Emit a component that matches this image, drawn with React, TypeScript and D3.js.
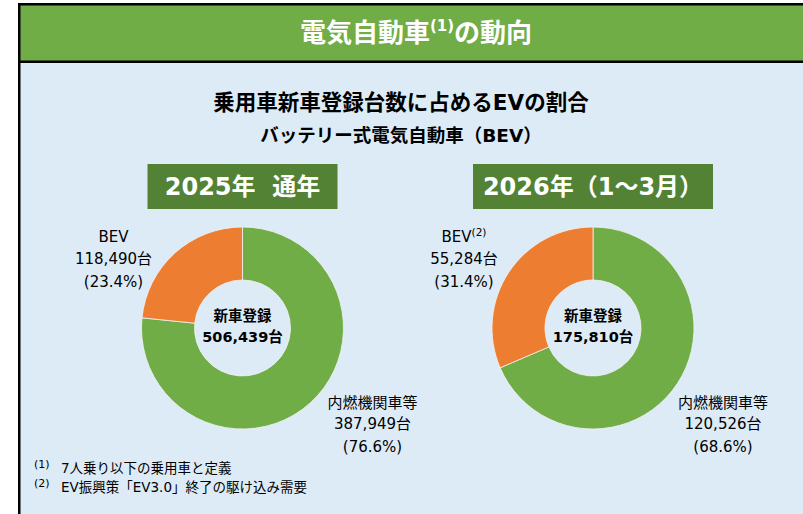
import React from "react";
import * as d3 from "d3";

const groupTitles = ["2025年  通年", "2026年（1～3月）"];
const bevValues = [118490, 55284];
const iceValues = [387949, 120526];
const bevNotes = ["", "(2)"];
const categoryNames = ["内燃機関車等", "BEV"];
const footnoteMarks = ["(1)", "(2)"];
const footnoteTexts = ["7人乗り以下の乗用車と定義", "EV振興策「EV3.0」終了の駆け込み需要"];

const W = 803;
const H = 514;
const FONT = "'DejaVu Sans', 'Noto Sans CJK JP', sans-serif";
const GREEN = "#70AD47";
const DARK_GREEN = "#548235";
const ORANGE = "#ED7D31";
const BG = "#DDEBF7";

export default function App() {
  const fmt = d3.format(",");
  const pct = d3.format(".1%");
  const xScale = d3.scalePoint<number>().domain([0, 1]).range([242.5, 593]);
  const cy = 328;
  const outerR = 101;
  const innerR = 48;
  const pie = d3.pie<number>().sort(null).startAngle(0).endAngle(2 * Math.PI);
  const arc = d3.arc<d3.PieArcDatum<number>>().innerRadius(innerR).outerRadius(outerR);
  const colors = [GREEN, ORANGE];
  const boxWidths = [190, 240];

  return (
    <svg
      width={W}
      height={H}
      style={{ position: "fixed", left: 0, top: 0, display: "block" }}
      fontFamily={FONT}
    >
      <rect x={0} y={0} width={W} height={H} fill="#ffffff" />
      <rect x={19} y={4} width={W} height={H} fill={BG} />
      <rect x={19} y={4} width={W} height={58} fill={GREEN} />
      <rect x={18} y={3} width={W} height={2.5} fill="#000" />
      <rect x={18} y={3} width={2.5} height={H} fill="#000" />
      <rect x={18} y={60.5} width={W} height={2.5} fill="#000" />

      <text x={416} y={33} textAnchor="middle" dominantBaseline="central" fill="#fff" fontSize={26} fontWeight="bold">
        電気自動車
        <tspan fontSize={15} dy={-7}>(1)</tspan>
        <tspan dy={7}>の動向</tspan>
      </text>

      <text x={401} y={102} textAnchor="middle" dominantBaseline="central" fill="#000" fontSize={21.5} fontWeight="bold">
        乗用車新車登録台数に占めるEVの割合
      </text>
      <text x={401} y={135} textAnchor="middle" dominantBaseline="central" fill="#000" fontSize={18.5} fontWeight="bold">
        バッテリー式電気自動車（BEV）
      </text>

      {groupTitles.map((t, i) => {
        const cx = xScale(i) as number;
        const data = [iceValues[i], bevValues[i]];
        const total = d3.sum(data);
        const arcs = pie(data);
        return (
          <g key={i}>
            <rect x={cx - boxWidths[i] / 2} y={164} width={boxWidths[i]} height={45} fill={DARK_GREEN} />
            <text x={cx} y={187} textAnchor="middle" dominantBaseline="central" fill="#fff" fontSize={24} fontWeight="bold" style={{ whiteSpace: "pre" }}>
              {t}
            </text>
            <g transform={`translate(${cx},${cy})`}>
              {arcs.map((a, j) => (
                <path key={j} d={arc(a) || ""} fill={colors[j]} stroke="#f3f3f3" strokeWidth={0.8} />
              ))}
              <text x={0} y={-12} textAnchor="middle" dominantBaseline="central" fontSize={14.5} fontWeight="bold" fill="#000">
                新車登録
              </text>
              <text x={0} y={9} textAnchor="middle" dominantBaseline="central" fontSize={14.5} fontWeight="bold" fill="#000">
                {fmt(total)}台
              </text>
            </g>
            <g transform={`translate(${cx - 129},${cy})`} fontSize={15} fill="#000">
              <text x={0} y={-91} textAnchor="middle" dominantBaseline="central">
                {categoryNames[1]}
                {bevNotes[i] ? (
                  <tspan fontSize={10.5} dy={-5}>{bevNotes[i]}</tspan>
                ) : null}
              </text>
              <text x={0} y={-69} textAnchor="middle" dominantBaseline="central">
                {fmt(bevValues[i])}台
              </text>
              <text x={0} y={-46} textAnchor="middle" dominantBaseline="central">
                ({pct(bevValues[i] / total)})
              </text>
            </g>
            <g transform={`translate(${cx + 130},${cy})`} fontSize={15} fill="#000">
              <text x={0} y={75} textAnchor="middle" dominantBaseline="central">
                {categoryNames[0]}
              </text>
              <text x={0} y={96} textAnchor="middle" dominantBaseline="central">
                {fmt(iceValues[i])}台
              </text>
              <text x={0} y={119} textAnchor="middle" dominantBaseline="central">
                ({pct(iceValues[i] / total)})
              </text>
            </g>
          </g>
        );
      })}

      {footnoteTexts.map((t, i) => (
        <g key={i}>
          <text x={34} y={464 + i * 19} dominantBaseline="central" fontSize={11} fill="#000">
            {footnoteMarks[i]}
          </text>
          <text x={61} y={468 + i * 19} dominantBaseline="central" fontSize={13.5} fill="#000">
            {t}
          </text>
        </g>
      ))}
    </svg>
  );
}
